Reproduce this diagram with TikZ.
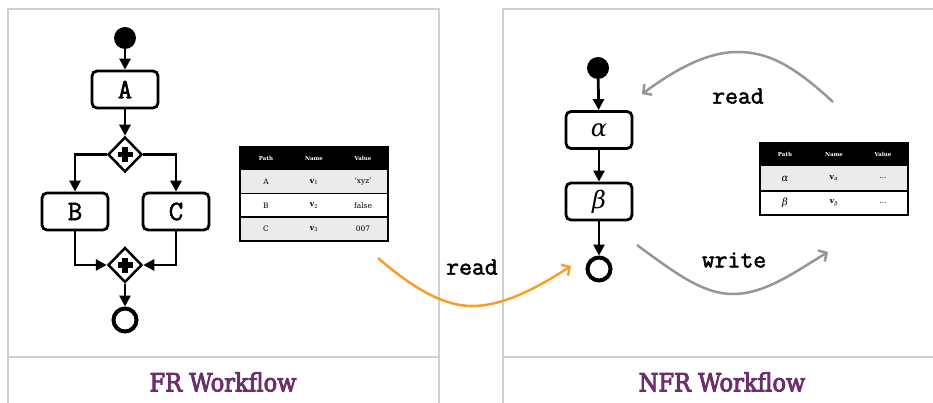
\documentclass[tikz,border=0pt]{standalone}
\usepackage{fontspec}
\setmainfont{DejaVu Serif}
\newfontfamily\monofont[FakeBold=2]{Latin Modern Mono}
\newfontfamily\titlefont[FakeBold=3.5]{DejaVu Serif Condensed}
\newfontfamily\greekfont{DejaVu Serif}
\usetikzlibrary{arrows.meta,shapes.geometric}
\definecolor{framegray}{HTML}{D0D0D0}
\definecolor{titlepurple}{HTML}{6B2F6B}
\definecolor{arrorange}{HTML}{F5A02A}
\definecolor{arrgray}{HTML}{969696}
\definecolor{rowgray}{HTML}{EBEBEB}
\begin{document}
\begin{tikzpicture}[x=1pt,y=-1pt,
  frameline/.style={draw=framegray,line width=2pt},
  paneltitle/.style={text=titlepurple,font=\titlefont\fontsize{25}{28}\selectfont},
  act/.style={draw,line width=2.8pt,rounded corners=5pt,minimum width=66pt,minimum height=37pt,inner sep=0pt,font=\monofont\fontsize{28}{29}\selectfont},
  startnode/.style={circle,fill=black,minimum size=22pt,inner sep=0pt},
  endnode/.style={circle,draw=black,line width=4pt,minimum size=23pt,inner sep=0pt},
  gateway/.style={diamond,draw,line width=2.5pt,minimum width=34pt,minimum height=35pt,inner sep=0pt,aspect=1,
    path picture={
      \fill ([xshift=-2.6pt,yshift=-7.5pt]path picture bounding box.center) rectangle ++(5.2pt,15pt);
      \fill ([xshift=-7.5pt,yshift=-2.6pt]path picture bounding box.center) rectangle ++(15pt,5.2pt);
    }},
  flow/.style={line width=2.8pt,-{Triangle[length=11pt,width=11pt]}},
  garrow/.style={draw=arrgray,line width=2.5pt,-{Straight Barb[length=6pt,width=13pt]}},
  oarrow/.style={draw=arrorange,line width=2.5pt,-{Straight Barb[length=6pt,width=13pt]}},
  lbl/.style={font=\monofont\fontsize{25}{27}\selectfont},
  thead/.style={text=white,font=\bfseries\fontsize{5.5}{6}\selectfont},
  tcell/.style={font=\fontsize{7.5}{8}\selectfont},
  tgreek/.style={font=\greekfont\itshape\fontsize{10}{11}\selectfont},
  greek/.style={font=\greekfont\itshape\fontsize{24}{26}\selectfont},
]
\useasboundingbox (0,0) rectangle (933,403);
% panel frames
\draw[frameline] (8,403) -- (8,9) -- (439,9) -- (439,403);
\draw[frameline] (8,357) -- (439,357);
\draw[frameline] (503,403) -- (503,9) -- (934,9);
\draw[frameline] (503,357) -- (934,357);
\node[paneltitle] (t1) at (223,382) {FR Workflow};
\node[paneltitle] (t2) at (722,382) {NFR Workflow};

% FR workflow
\node[startnode] (s1) at (125,38) {};
\node[act] (A) at (125,89.5) {A};
\node[gateway] (g1) at (125,154.5) {};
\node[act] (B) at (75,211.5) {B};
\node[act] (C) at (176,211.5) {C};
\node[gateway] (g2) at (125,265) {};
\node[endnode] (e1) at (125,320) {};
\draw[flow] (s1) -- (A);
\draw[flow] (A) -- (g1);
\draw[flow] (g1.west) -| (B.north);
\draw[flow] (g1.east) -| (C.north);
\draw[flow] (B.south) |- (g2.west);
\draw[flow] (C.south) |- (g2.east);
\draw[flow] (g2) -- (e1);

% table 1
\fill[black] (240,147) rectangle (388,170);
\fill[rowgray] (240,170) rectangle (388,193.5);
\fill[white] (240,193.5) rectangle (388,217);
\fill[rowgray] (240,217) rectangle (388,241);
\draw[line width=1.5pt] (240,193.5) -- (388,193.5);
\draw[line width=1.5pt] (240,217) -- (388,217);
\draw[line width=1.5pt] (240,147) rectangle (388,241);
\node[thead] (h11) at (266,158.5) {Path};
\node[thead] (h12) at (314,158.5) {Name};
\node[thead] (h13) at (363,158.5) {Value};
\node[tcell] (r11) at (266,182) {A};
\node[tcell] (r12) at (314,182) {\textbf{v}\textsubscript{1}};
\node[tcell] (r13) at (363,182) {‘xyz’};
\node[tcell] (r21) at (266,205.5) {B};
\node[tcell] (r22) at (314,205.5) {\textbf{v}\textsubscript{2}};
\node[tcell] (r23) at (363,205.5) {false};
\node[tcell] (r31) at (266,229) {C};
\node[tcell] (r32) at (314,229) {\textbf{v}\textsubscript{3}};
\node[tcell] (r33) at (363,229) {007};

% NFR workflow
\node[startnode] (s2) at (598,68) {};
\node[act,greek] (al) at (599,130) {α};
\node[act,greek] (be) at (599,201.5) {β};
\node[endnode] (e2) at (599,269) {};
\draw[flow] (s2) -- (al);
\draw[flow] (al) -- (be);
\draw[flow] (be) -- (e2);

% table 2
\fill[black] (760,143) rectangle (908,166);
\fill[rowgray] (760,166) rectangle (908,191);
\fill[white] (760,191) rectangle (908,215);
\draw[line width=1.5pt] (760,191) -- (908,191);
\draw[line width=1.5pt] (760,143) rectangle (908,215);
\node[thead] (h21) at (785,154.5) {Path};
\node[thead] (h22) at (834,154.5) {Name};
\node[thead] (h23) at (883,154.5) {Value};
\node[tgreek] (q11) at (785,178.5) {α};
\node[tcell] (q12) at (834,178.5) {\textbf{v}\textsubscript{\itshape α}};
\node[tcell] (q13) at (883,178.5) {...};
\node[tgreek] (q21) at (785,203) {β};
\node[tcell] (q22) at (834,203) {\textbf{v}\textsubscript{\itshape β}};
\node[tcell] (q23) at (883,203) {...};

% gray read / write arrows
\coordinate (rdS) at (833,102);
\coordinate (rdE) at (642,94);
\draw[garrow] (rdS) .. controls (790,62) and (765,52) .. (737,52) .. controls (705,52) and (672,72) .. (rdE);
\node[lbl] (rdl) at (738,96) {read};
\coordinate (wrS) at (637,245);
\coordinate (wrE) at (828,252);
\draw[garrow] (wrS) .. controls (680,277) and (705,294) .. (733,294) .. controls (765,294) and (795,272) .. (wrE);
\node[lbl] (wrl) at (734,260) {write};

% orange read arrow
\coordinate (orS) at (378,258);
\coordinate (orE) at (571,266);
\draw[oarrow] (orS) .. controls (415,290) and (445,306) .. (472,306) .. controls (505,306) and (540,286) .. (orE);
\node[lbl] (orl) at (472,267) {read};
\end{tikzpicture}
\end{document}
